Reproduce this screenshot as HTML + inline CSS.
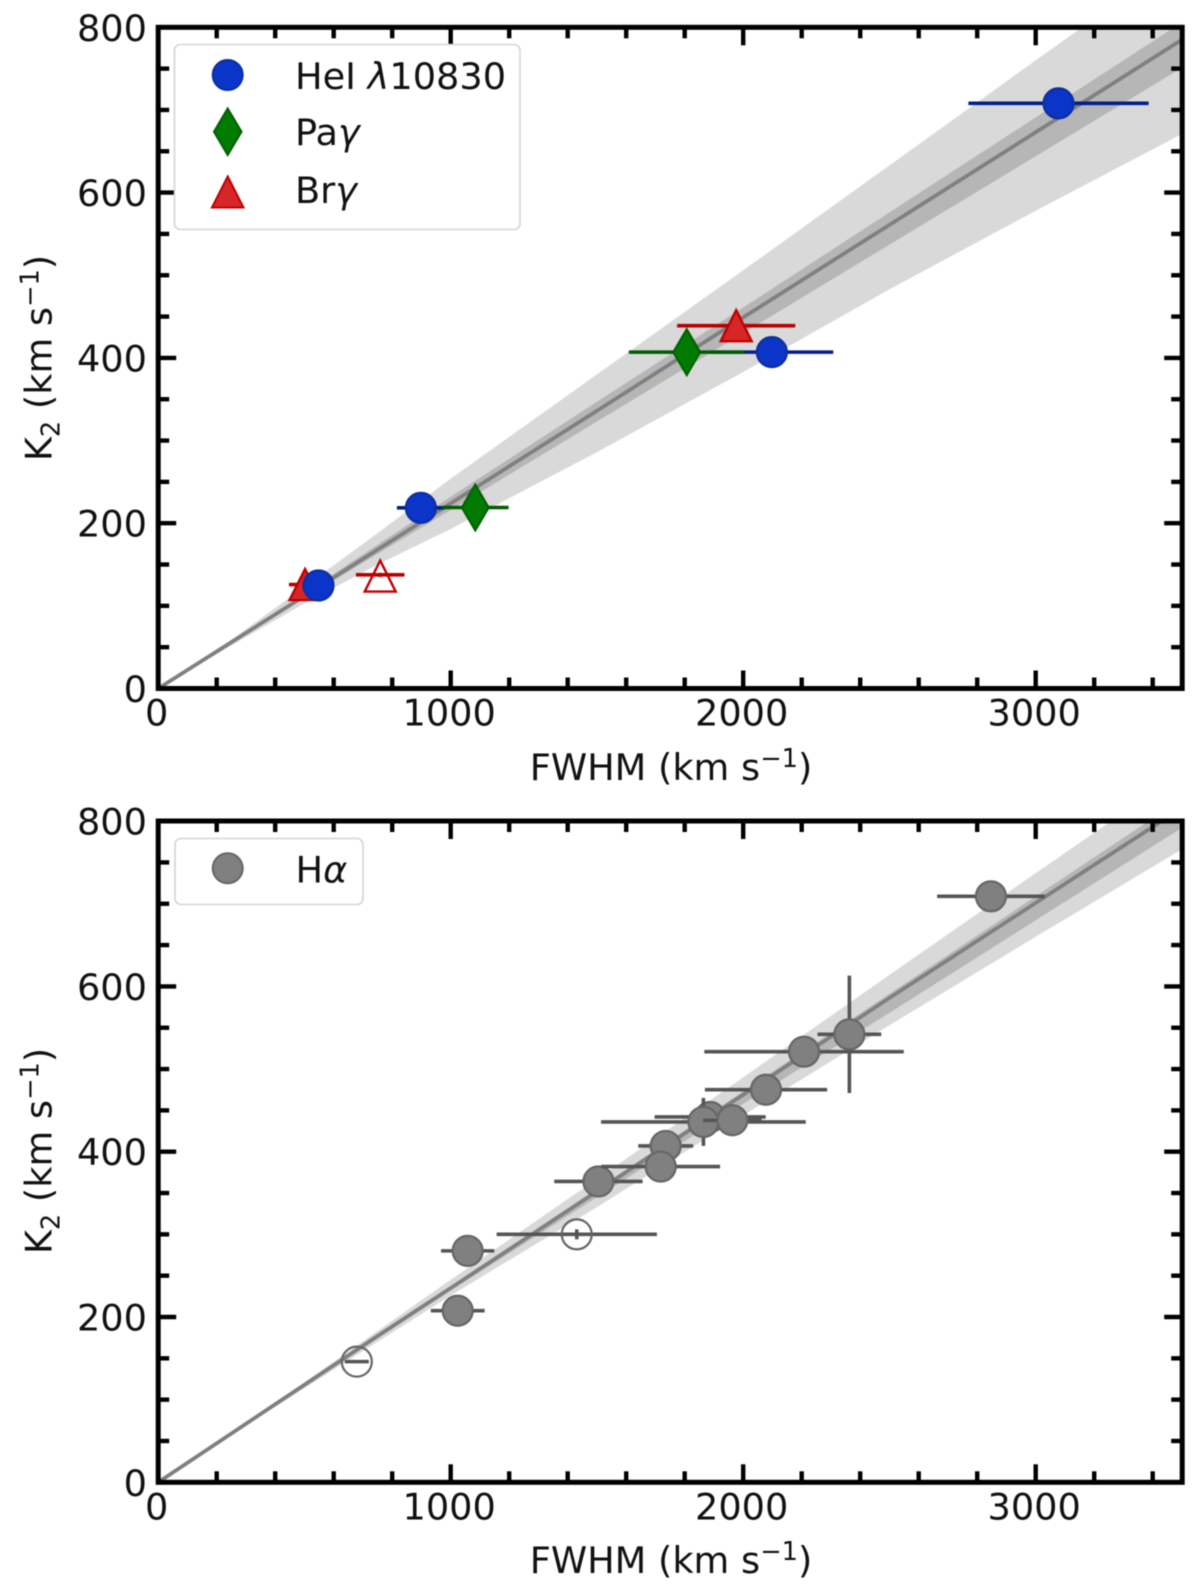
<!DOCTYPE html>
<html lang="en">
<head>
<meta charset="utf-8">
<title>K2 versus FWHM</title>
<style>
html,body{margin:0;padding:0;background:#fff;}
svg{display:block;filter:blur(0.55px);}
text{font-family:"DejaVu Sans","Liberation Sans",sans-serif;font-size:36.7px;fill:#111;}
.it{font-style:italic;}
</style>
</head>
<body>
<svg id="figure" xmlns="http://www.w3.org/2000/svg" width="1200" height="1594" viewBox="0 0 1200 1594">
  <defs>
    <clipPath id="clip-top"><rect x="158.2" y="27" width="1024" height="661.5"/></clipPath>
    <clipPath id="clip-bottom"><rect x="158.2" y="821" width="1024" height="661.3"/></clipPath>
  </defs>
  <g id="panel-top"></g>
  <g id="panel-bottom"></g>

  <text x="671" y="780" text-anchor="middle">FWHM (km s<tspan dy="-13" font-size="25.7">−1</tspan><tspan dy="13">)</tspan></text>
  <text x="671" y="1573" text-anchor="middle">FWHM (km s<tspan dy="-13" font-size="25.7">−1</tspan><tspan dy="13">)</tspan></text>
  <text transform="translate(51.5,358) rotate(-90)" text-anchor="middle">K<tspan dy="8" font-size="25.7">2</tspan><tspan dy="-8"> (km s</tspan><tspan dy="-13" font-size="25.7">−1</tspan><tspan dy="13">)</tspan></text>
  <text transform="translate(51.5,1151) rotate(-90)" text-anchor="middle">K<tspan dy="8" font-size="25.7">2</tspan><tspan dy="-8"> (km s</tspan><tspan dy="-13" font-size="25.7">−1</tspan><tspan dy="13">)</tspan></text>

  <g>
    <rect x="174.5" y="44.5" width="345.5" height="185" rx="6" ry="6" fill="#fff" stroke="#d4d4d4" stroke-width="1.6"/>
    <circle cx="227.7" cy="75" r="15" fill="#0a35c8" stroke="#0d2f9e" stroke-width="2"/>
    <polygon points="227.7,108.5 241.5,131.7 227.7,155 214,131.7" fill="#007a00" stroke="#006000" stroke-width="2"/>
    <polygon points="227.7,176.5 243.5,207.5 212,207.5" fill="#d62728" stroke="#c00000" stroke-width="2"/>
    <text x="295" y="89">HeI <tspan class="it">λ</tspan>10830</text>
    <text x="295" y="145">Pa<tspan class="it">γ</tspan></text>
    <text x="295" y="203">Br<tspan class="it">γ</tspan></text>
  </g>
  <g>
    <rect x="175" y="838.5" width="188" height="66" rx="6" ry="6" fill="#fff" stroke="#d4d4d4" stroke-width="1.6"/>
    <circle cx="227.7" cy="868.3" r="15" fill="#808080" stroke="#666" stroke-width="2"/>
    <text x="295.5" y="882.7">H<tspan class="it">α</tspan></text>
  </g>
</svg>
<script>
// ---- shared tick values ----
const xMajorTicks = [0, 1000, 2000, 3000];
const yMajorTicks = [0, 200, 400, 600, 800];
const xTickLabels = ["0", "1000", "2000", "3000"];
const yTickLabels = ["0", "200", "400", "600", "800"];
const xMinorTicks = [200, 400, 600, 800, 1200, 1400, 1600, 1800, 2200, 2400, 2600, 2800, 3200, 3400];
const yMinorTicks = [50, 100, 150, 250, 300, 350, 450, 500, 550, 650, 700, 750];

// ---- relation bands (FWHM, K2) ----
const bandFwhm = [0, 250, 500, 750, 1000, 1500, 2000, 2500, 3000, 3500];
const topOuterUpper = [0, 59, 123, 188, 254, 380, 506, 633, 760, 886];
const topOuterLower = [0, 52, 103, 150, 193, 286, 383, 483, 578, 671];
const topInnerUpper = [0, 57, 115, 174, 232, 347, 461, 576, 691, 806];
const topInnerLower = [0, 55, 109, 163, 216, 323, 430, 537, 644, 751];
const topLine = [0, 56, 112, 168, 224, 336, 449, 561, 673, 785];
const bottomOuterUpper = [0, 60, 121, 183, 245, 367, 490, 614, 737, 859];
const bottomOuterLower = [0, 57, 114, 170, 226, 333, 444, 553, 660, 766];
const bottomInnerUpper = [0, 59, 118, 178, 237, 355, 473, 591, 709, 827];
const bottomInnerLower = [0, 58, 116, 174, 232, 345, 458, 568, 680, 792];
const bottomLine = [0, 59, 118, 177, 235, 352, 469, 586, 701, 816];

// ---- top-panel series ----
const brX = [502, 1976];
const brY = [125.8, 439];
const brXErr = [55, 202];
const brOpenX = [759];
const brOpenY = [136];
const brOpenXErr = [83];
const brOpenYErr = [2.5];
const heX = [548, 898, 2098, 3078];
const heY = [124.6, 218.6, 407, 708];
const heXErr = [40, 82, 210, 308];
const paX = [1084, 1807];
const paY = [219, 407];
const paXErr = [114, 198];

// ---- bottom-panel series ----
const haX = [1024, 1058, 1505, 1735, 1718, 1887, 1864, 1963, 2078, 2208, 2363, 2847];
const haY = [207.6, 280, 364, 407, 382, 442, 436, 438, 475, 521, 542, 709];
const haXErr = [92, 91, 151, 94, 203, 190, 350, 100, 209, 341, 109, 184];
const haYErr = [0, 0, 0, 0, 0, 0, 29, 0, 0, 0, 71, 0];
const haOpenX = [679, 1431];
const haOpenY = [146, 300];
const haOpenXErr = [41, 274];
const haOpenYErr = [0, 6];

const NS = "http://www.w3.org/2000/svg";
const xScale = 0.2925, yScale = 0.8265, x0 = 158.2, xEnd = 1182.2;
const topPanel = {g: document.getElementById("panel-top"), y0: 688.5, yEnd: 27.3, clip: "clip-top"};
const bottomPanel = {g: document.getElementById("panel-bottom"), y0: 1482.3, yEnd: 821, clip: "clip-bottom"};
const colors = {
  he: {fill: "#0a35c8", edge: "#0d2f9e", err: "#00208a"},
  pa: {fill: "#007a00", edge: "#006000", err: "#005c00"},
  br: {fill: "#d62728", edge: "#c00000", err: "#b80000"},
  ha: {fill: "#808080", edge: "#666666", err: "#555555"}
};

function px(v) { return x0 + xScale * v; }
function py(panel, v) { return panel.y0 - yScale * v; }
function make(parent, tag, attrs) {
  const n = document.createElementNS(NS, tag);
  for (const k in attrs) n.setAttribute(k, attrs[k]);
  parent.appendChild(n);
  return n;
}
function bandPoints(panel, upper, lower) {
  const pts = [];
  bandFwhm.forEach(function (f, i) { pts.push(px(f) + "," + py(panel, upper[i])); });
  for (let i = bandFwhm.length - 1; i >= 0; i--) pts.push(px(bandFwhm[i]) + "," + py(panel, lower[i]));
  return pts.join(" ");
}
function drawBands(panel, outerU, outerL, innerU, innerL, line) {
  const g = make(panel.g, "g", {"clip-path": "url(#" + panel.clip + ")"});
  
  
  const outer = make(g, "polygon", {points: bandPoints(panel, outerU, outerL), fill: "#d9d9d9"});
  
  
  const inner = make(g, "polygon", {points: bandPoints(panel, innerU, innerL), fill: "#b6b6b6"});
  
  
  const pts = bandFwhm.map(function (f, i) { return px(f) + "," + py(panel, line[i]); }).join(" ");
  const fit = make(g, "polyline", {points: pts, fill: "none", stroke: "#808080", "stroke-width": 3.8});
  
  
}
function drawErr(panel, x, y, xe, ye, color) {
  if (xe > 0) {
    const h = make(panel.g, "line", {x1: px(x - xe), x2: px(x + xe), y1: py(panel, y), y2: py(panel, y), stroke: color, "stroke-width": 3.6});
    
    
  }
  if (ye > 0) {
    const v = make(panel.g, "line", {x1: px(x), x2: px(x), y1: py(panel, y - ye), y2: py(panel, y + ye), stroke: color, "stroke-width": 3.6});
    
    
  }
}
function drawCircle(panel, x, y, fill, edge) {
  const c = make(panel.g, "circle", {cx: px(x), cy: py(panel, y), r: 15, fill: fill, stroke: edge, "stroke-width": 2.2});
  
  
}
function drawTriangle(panel, x, y, fill, edge) {
  const cx = px(x), cy = py(panel, y);
  const pts = cx + "," + (cy - 15.5) + " " + (cx + 15.5) + "," + (cy + 15.5) + " " + (cx - 15.5) + "," + (cy + 15.5);
  const t = make(panel.g, "polygon", {points: pts, fill: fill, stroke: edge, "stroke-width": 2.4});
  
  
}
function drawDiamond(panel, x, y, fill, edge) {
  const cx = px(x), cy = py(panel, y);
  const pts = cx + "," + (cy - 23) + " " + (cx + 13.5) + "," + cy + " " + cx + "," + (cy + 23) + " " + (cx - 13.5) + "," + cy;
  const d = make(panel.g, "polygon", {points: pts, fill: fill, stroke: edge, "stroke-width": 2});
  
  
}
function drawAxes(panel) {
  const g = make(panel.g, "g", {});
  
  
  const tick = function (x1, y1, x2, y2) {
    const t = make(g, "line", {x1: x1, y1: y1, x2: x2, y2: y2, stroke: "#000", "stroke-width": 4.4});
    
    
  };
  xMinorTicks.forEach(function (v) {
    tick(px(v), panel.y0, px(v), panel.y0 - 11);
    tick(px(v), panel.yEnd, px(v), panel.yEnd + 11);
  });
  xMajorTicks.forEach(function (v) {
    tick(px(v), panel.y0, px(v), panel.y0 - 18);
    tick(px(v), panel.yEnd, px(v), panel.yEnd + 18);
  });
  yMinorTicks.forEach(function (v) {
    tick(x0, py(panel, v), x0 + 11, py(panel, v));
    tick(xEnd, py(panel, v), xEnd - 11, py(panel, v));
  });
  yMajorTicks.forEach(function (v) {
    tick(x0, py(panel, v), x0 + 18, py(panel, v));
    tick(xEnd, py(panel, v), xEnd - 18, py(panel, v));
  });
  const frame = make(g, "rect", {x: x0, y: panel.yEnd, width: xEnd - x0, height: panel.y0 - panel.yEnd, fill: "none", stroke: "#000", "stroke-width": 5});
  
  
  xMajorTicks.forEach(function (v, i) {
    const lab = make(g, "text", {x: px(v) - 1.5, y: panel.y0 + 37, "text-anchor": "middle"});
    
    
    lab.textContent = xTickLabels[i];
  });
  yMajorTicks.forEach(function (v, i) {
    const lab = make(g, "text", {x: 147, y: py(panel, v) + 13.5, "text-anchor": "end"});
    
    
    lab.textContent = yTickLabels[i];
  });
}

// ---- top panel ----
drawBands(topPanel, topOuterUpper, topOuterLower, topInnerUpper, topInnerLower, topLine);
brOpenX.forEach(function (x, i) {
  drawErr(topPanel, x, brOpenY[i] + 1.5, brOpenXErr[i], brOpenYErr[i], colors.br.err);
  drawTriangle(topPanel, x, brOpenY[i], "none", colors.br.edge);
});
brX.forEach(function (x, i) {
  drawErr(topPanel, x, brY[i], brXErr[i], 0, colors.br.err);
  drawTriangle(topPanel, x, brY[i], colors.br.fill, colors.br.edge);
});
heX.forEach(function (x, i) {
  drawErr(topPanel, x, heY[i], heXErr[i], 0, colors.he.err);
  drawCircle(topPanel, x, heY[i], colors.he.fill, colors.he.edge);
});
paX.forEach(function (x, i) {
  drawErr(topPanel, x, paY[i], paXErr[i], 0, colors.pa.err);
  drawDiamond(topPanel, x, paY[i], colors.pa.fill, colors.pa.edge);
});
drawAxes(topPanel);

// ---- bottom panel ----
drawBands(bottomPanel, bottomOuterUpper, bottomOuterLower, bottomInnerUpper, bottomInnerLower, bottomLine);
haOpenX.forEach(function (x, i) {
  drawErr(bottomPanel, x, haOpenY[i], haOpenXErr[i], haOpenYErr[i], colors.ha.err);
  drawCircle(bottomPanel, x, haOpenY[i], "none", colors.ha.edge);
});
haX.forEach(function (x, i) {
  drawErr(bottomPanel, x, haY[i], haXErr[i], haYErr[i], colors.ha.err);
  drawCircle(bottomPanel, x, haY[i], colors.ha.fill, colors.ha.edge);
});
drawAxes(bottomPanel);
</script>
</body>
</html>
